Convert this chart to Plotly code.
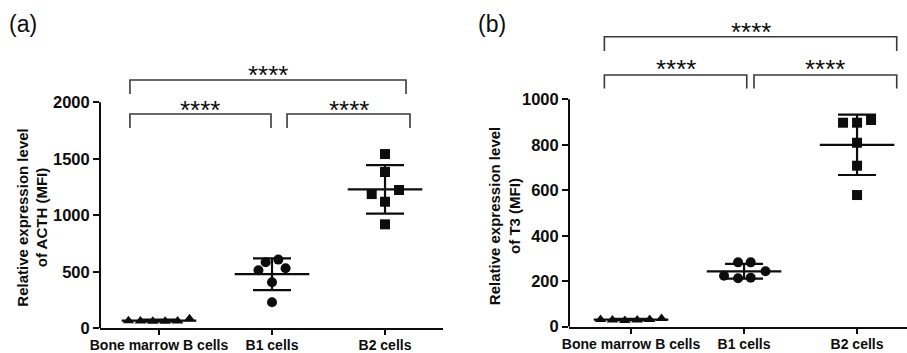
import numpy as np
import plotly.graph_objects as go

# ---------------- data ----------------
categories = ["Bone marrow B cells", "B1 cells", "B2 cells"]
acth_bm = [66, 64, 62, 62, 64, 85]
acth_b1 = [608, 584, 513, 531, 407, 230]
acth_b2 = [1542, 1383, 1188, 1224, 1120, 920]
t3_bm = [32, 29, 27, 29, 32, 36]
t3_b1 = [283, 283, 224, 213, 215, 244]
t3_b2 = [897, 897, 909, 809, 708, 579]
acth_ticks = [0, 500, 1000, 1500, 2000]
t3_ticks = [0, 200, 400, 600, 800, 1000]
significance = "****"
acth_title = "Relative expression level<br>of ACTH (MFI)"
t3_title = "Relative expression level<br>of T3 (MFI)"

# ---------------- style ----------------
FONT = "Liberation Sans, Arial, sans-serif"
INK = "#0d0d0d"
symbols = ["triangle-up", "circle", "square"]
msizes = [10, 10, 10]
# horizontal scatter spreading of points (category units)
jit_a = [[-0.27, -0.165, -0.055, 0.055, 0.165, 0.27],
         [0.056, -0.056, -0.12, 0.12, 0, 0],
         [0, 0, -0.118, 0.124, 0, 0]]
jit_b = [[-0.27, -0.165, -0.055, 0.055, 0.165, 0.27],
         [-0.053, 0.059, -0.177, -0.053, 0.059, 0.19],
         [-0.124, 0, 0.124, 0, 0, 0]]
MEAN_HALF = 0.33
CAP_HALF_PX = 19

fig = go.Figure()


def add_panel(groups, jit, xa, ya):
    for i, (vals, dx) in enumerate(zip(groups, jit)):
        v = np.array(vals, dtype=float)
        m = v.mean()
        sd = v.std(ddof=1)
        fig.add_trace(go.Scatter(
            x=[i + d for d in dx], y=v, mode="markers", xaxis=xa, yaxis=ya,
            marker=dict(symbol=symbols[i], size=msizes[i], color=INK,
                        line=dict(width=0)),
            showlegend=False, hoverinfo="skip"))
        fig.add_trace(go.Scatter(
            x=[i - MEAN_HALF, i + MEAN_HALF], y=[m, m], mode="lines",
            xaxis=xa, yaxis=ya, line=dict(color=INK, width=2.2),
            showlegend=False, hoverinfo="skip"))
        fig.add_trace(go.Scatter(
            x=[i], y=[m], mode="markers", xaxis=xa, yaxis=ya,
            marker=dict(size=1, opacity=0),
            error_y=dict(type="data", array=[sd], visible=True,
                         thickness=2.2, width=CAP_HALF_PX, color=INK),
            showlegend=False, hoverinfo="skip"))


add_panel([acth_bm, acth_b1, acth_b2], jit_a, "x", "y")
add_panel([t3_bm, t3_b1, t3_b2], jit_b, "x2", "y2")

# comparison brackets: (x0, x1, y, drop, star_y)
brackets_a = [(-0.257, 0.991, 1896, 1772, 1976),
              (1.133, 2.221, 1896, 1772, 1976),
              (-0.257, 2.186, 2197, 2073, 2286)]
brackets_b = [(-0.236, 1.024, 1107, 1048, 1154),
              (1.088, 2.351, 1107, 1048, 1154),
              (-0.236, 2.351, 1275, 1212, 1317)]

shapes = []
annotations = []
for br, xr, yr in [(brackets_a, "x", "y"), (brackets_b, "x2", "y2")]:
    for x0, x1, yy, yd, ys in br:
        shapes.append(dict(type="path", xref=xr, yref=yr,
                           path=f"M {x0},{yd} L {x0},{yy} L {x1},{yy} L {x1},{yd}",
                           line=dict(color="#3a3a3a", width=1.6)))
        annotations.append(dict(x=(x0 + x1) / 2, y=ys, xref=xr, yref=yr,
                                text=significance, showarrow=False,
                                xanchor="center", yanchor="middle", yshift=-5,
                                font=dict(family=FONT, size=26, color=INK)))

# y-axis spines (only up to top tick)
shapes.append(dict(type="line", xref="x domain", yref="y", x0=0, x1=0,
                   y0=0, y1=acth_ticks[-1], line=dict(color=INK, width=2)))
shapes.append(dict(type="line", xref="x2 domain", yref="y2", x0=0, x1=0,
                   y0=0, y1=t3_ticks[-1], line=dict(color=INK, width=2)))

# axis titles and panel labels
annotations += [
    dict(x=32.2 / 907, y=1 - 217.5 / 353, xref="paper", yref="paper",
         text=acth_title, textangle=-90, showarrow=False,
         xanchor="center", yanchor="middle",
         font=dict(family=FONT, size=15, color=INK, weight="bold")),
    dict(x=504.2 / 907, y=1 - 216 / 353, xref="paper", yref="paper",
         text=t3_title, textangle=-90, showarrow=False,
         xanchor="center", yanchor="middle",
         font=dict(family=FONT, size=15, color=INK, weight="bold")),
    dict(x=7 / 907, y=1 - 24 / 353, xref="paper", yref="paper", text="(a)",
         showarrow=False, xanchor="left", yanchor="middle",
         font=dict(family=FONT, size=23, color=INK)),
    dict(x=476 / 907, y=1 - 24 / 353, xref="paper", yref="paper", text="(b)",
         showarrow=False, xanchor="left", yanchor="middle",
         font=dict(family=FONT, size=23, color=INK)),
]

xaxis_common = dict(tickvals=[0, 1, 2], ticktext=categories, showgrid=False,
                    zeroline=False, showline=True, linecolor=INK, linewidth=2,
                    ticks="outside", ticklen=5, tickwidth=2, tickcolor=INK,
                    ticklabelstandoff=-2,
                    tickfont=dict(family=FONT, size=14, color=INK, weight="bold"),
                    fixedrange=True, automargin=False)
yaxis_common = dict(showgrid=False, zeroline=False, showline=False,
                    ticks="outside", ticklen=6, tickwidth=2, tickcolor=INK,
                    tickfont=dict(family=FONT, size=16.5, color=INK, weight="bold"),
                    fixedrange=True, automargin=False)

H = 353.0
fig.update_layout(
    width=907, height=353,
    margin=dict(l=0, r=0, t=0, b=0, autoexpand=False),
    paper_bgcolor="white", plot_bgcolor="white",
    showlegend=False,
    xaxis=dict(domain=[100 / 907, 443 / 907], range=[-0.522, 2.513],
               anchor="y", **xaxis_common),
    yaxis=dict(domain=[(H - 328.3) / H, 1], range=[0, 328.3 / 0.113],
               anchor="x", tickvals=acth_ticks, **yaxis_common),
    xaxis2=dict(domain=[569 / 907, 1], range=[-0.549, 2.442],
                anchor="y2", **xaxis_common),
    yaxis2=dict(domain=[(H - 326.7) / H, 1], range=[0, 326.7 / 0.2274],
                anchor="x2", tickvals=t3_ticks, **yaxis_common),
    shapes=shapes,
    annotations=annotations,
)

fig.write_html("out.html")
